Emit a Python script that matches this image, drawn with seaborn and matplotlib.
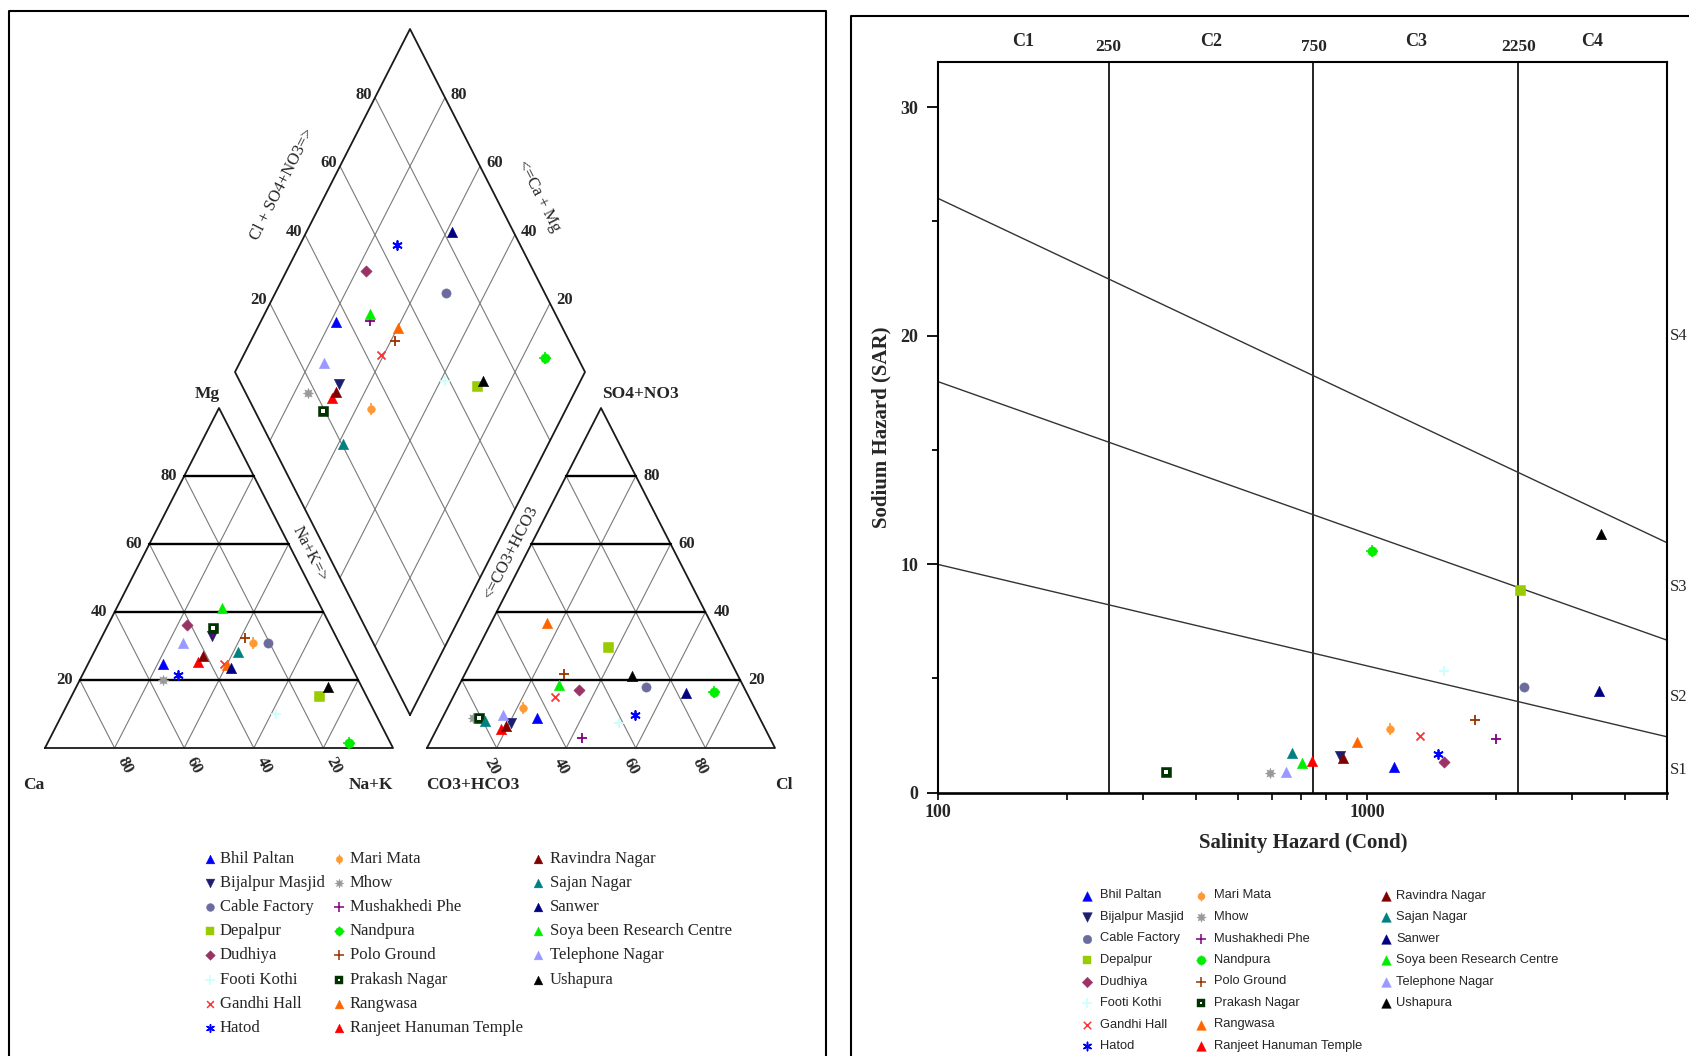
import numpy as np
import pandas as pd
import matplotlib
matplotlib.use("Agg")
import matplotlib.pyplot as plt
import matplotlib.transforms as mtransforms
from matplotlib.markers import MarkerStyle
from matplotlib.ticker import FixedLocator, NullFormatter
import seaborn as sns

sns.set_theme(style="white")
plt.rcParams["font.family"] = ["Liberation Serif", "DejaVu Serif"]

# ---------------------------------------------------------------- data
sites = ["Bhil Paltan", "Bijalpur Masjid", "Cable Factory", "Depalpur", "Dudhiya",
         "Footi Kothi", "Gandhi Hall", "Hatod", "Mari Mata", "Mhow",
         "Mushakhedi Phe", "Nandpura", "Polo Ground", "Prakash Nagar", "Rangwasa",
         "Ranjeet Hanuman Temple", "Ravindra Nagar", "Sajan Nagar", "Sanwer",
         "Soya been Research Centre", "Telephone Nagar", "Ushapura"]

site_markers = ["^", "v", "o", "s", "D", "+", "x", (6, 2, 0), "o", (8, 1, 0),
                "+", "o", "+", "s", "^", "^", "^", "^", "^", "^", "^", "^"]
site_colors = ["#0000ff", "#1e1e6e", "#6b6b9e", "#99cc00", "#993366",
               "#c8ffff", "#ff3333", "#0000ff", "#ff9933", "#999999",
               "#800080", "#00ee00", "#993300", "#003300", "#ff6600",
               "#ff0000", "#800000", "#008080", "#000080", "#00ee00",
               "#9999ff", "#000000"]
marker_scale = [1.0, 1.0, 0.8, 0.85, 0.6, 1.1, 0.6, 0.75, 0.55, 1.0,
                1.1, 0.8, 1.1, 0.85, 1.0, 1.0, 1.0, 1.0, 1.0, 1.0, 1.0, 1.0]

# cation composition (% meq): Mg and Na+K, Ca is the remainder
cat_mg = [24.7, 32.9, 30.8, 15.3, 36.2, 10.0, 24.7, 21.5, 31.0, 20.0, 34.0,
          1.5, 32.3, 35.2, 24.4, 25.4, 27.1, 28.3, 23.6, 41.1, 30.8, 18.0]
cat_nak = [21.6, 31.4, 48.6, 71.1, 22.8, 61.3, 39.2, 27.6, 44.2, 23.8, 31.2,
           86.6, 41.3, 30.8, 40.0, 31.4, 31.8, 41.4, 41.6, 30.2, 24.2, 72.2]
# anion composition (% meq): SO4+NO3 and Cl, CO3+HCO3 is the remainder
an_so4 = [8.9, 7.5, 17.8, 29.6, 17.1, 7.3, 15.0, 9.7, 11.9, 8.8, 2.9,
          16.5, 21.8, 8.8, 36.8, 5.5, 6.5, 7.8, 16.1, 18.6, 9.7, 21.2]
an_cl = [27.2, 20.5, 53.9, 37.3, 35.1, 51.5, 29.2, 55.0, 21.6, 8.9, 43.1,
         74.3, 28.4, 10.6, 16.1, 18.4, 19.5, 12.7, 66.4, 28.6, 17.0, 48.3]
# irrigation suitability: conductivity (uS/cm) and SAR
cond = [1156, 864, 2316, 2270, 1513, 1513, 1325, 1465, 1129, 593, 1992,
        1028, 1786, 340, 948, 744, 877, 670, 3473, 706, 647, 3508]
sar = [1.11, 1.61, 4.62, 8.88, 1.36, 5.34, 2.50, 1.68, 2.78, 0.88, 2.35,
       10.59, 3.18, 0.92, 2.21, 1.39, 1.53, 1.75, 4.47, 1.31, 0.91, 11.32]

grid_ticks = [20, 40, 60, 80]
ec_classes = [250, 750, 2250]
ec_class_labels = ["C1", "C2", "C3", "C4"]
# USSL sodium hazard boundaries: SAR = a - b*log10(EC)
ussl_a = [18.87, 31.31, 43.75]
ussl_b = [4.44, 6.66, 8.87]

df = pd.DataFrame({"site": sites, "mg": cat_mg, "nak": cat_nak,
                   "so4": an_so4, "cl": an_cl, "cond": cond, "sar": sar})

# ---------------------------------------------------------------- geometry (pixels)
W, H = 348.0, 340.0
CAT0 = np.array([45.0, 748.0])
AN0 = np.array([427.0, 748.0])
DB = np.array([410.0, 715.0])
DU = np.array([175.0, -343.0])
DV = np.array([-175.0, -343.0])


def tri_xy(origin, right_pct, top_pct):
    r = np.asarray(right_pct, dtype=float) / 100.0
    t = np.asarray(top_pct, dtype=float) / 100.0
    return origin[0] + W * (r + t / 2.0), origin[1] - H * t


def dia_xy(a_frac, b_frac):
    a = np.asarray(a_frac, dtype=float)
    b = np.asarray(b_frac, dtype=float)
    return DB[0] + a * DU[0] + b * DV[0], DB[1] + a * DU[1] + b * DV[1]


df["cat_x"], df["cat_y"] = tri_xy(CAT0, df["nak"], df["mg"])
df["an_x"], df["an_y"] = tri_xy(AN0, df["cl"], df["so4"])
df["dia_x"], df["dia_y"] = dia_xy((df["cl"] + df["so4"]) / 100.0,
                                  1.0 - df["nak"] / 100.0)

fig = plt.figure(figsize=(16.89, 10.56), dpi=100)
fig.patch.set_facecolor("white")
ax = fig.add_axes([0, 0, 1, 1])
ax.set_xlim(0, 1689)
ax.set_ylim(1056, 0)
ax.axis("off")

# panel frames
ax.plot([9.5, 9.5, 826, 826], [1100, 11, 11, 1100], color="black", lw=1.5)
ax.plot([851, 851, 1750], [1100, 16, 16], color="black", lw=1.5)

GRID = dict(color="#7a7a7a", lw=0.8, zorder=1)
EDGE = dict(color="#1a1a1a", lw=1.3, zorder=2)
BOLD = dict(color="black", lw=1.7, zorder=2)
TICKFONT = dict(fontsize=12, fontweight="bold")


def draw_triangle(origin):
    xs, ys = tri_xy(origin, [0, 100, 0, 0], [0, 0, 100, 0])
    ax.plot(xs, ys, **EDGE)
    for p in grid_ticks:
        x, y = tri_xy(origin, [0, 100 - p], [p, p])
        ax.plot(x, y, **BOLD)
        x, y = tri_xy(origin, [p, p], [0, 100 - p])
        ax.plot(x, y, **GRID)
        x, y = tri_xy(origin, [100 - p, 0], [0, 100 - p])
        ax.plot(x, y, **GRID)


draw_triangle(CAT0)
draw_triangle(AN0)

# diamond
corners = np.array([DB, DB + DU, DB + DU + DV, DB + DV, DB])
ax.plot(corners[:, 0], corners[:, 1], **EDGE)
for p in grid_ticks:
    f = p / 100.0
    s0, s1 = DB + f * DU, DB + f * DU + DV
    ax.plot([s0[0], s1[0]], [s0[1], s1[1]], **GRID)
    s0, s1 = DB + f * DV, DB + f * DV + DU
    ax.plot([s0[0], s1[0]], [s0[1], s1[1]], **GRID)

# tick labels of the triangles and the diamond
for p in grid_ticks:
    x, y = tri_xy(CAT0, 0, p)
    ax.text(x - 7, y, str(p), ha="right", va="center", **TICKFONT)
    x, y = tri_xy(AN0, 100 - p, p)
    ax.text(x + 8, y, str(p), ha="left", va="center", **TICKFONT)
    x, _ = tri_xy(CAT0, 100 - p, 0)
    ax.text(x + 10, 765, str(p), ha="center", va="center", rotation=-62, **TICKFONT)
    x, _ = tri_xy(AN0, p, 0)
    ax.text(x - 5, 766, str(p), ha="center", va="center", rotation=-62, **TICKFONT)
    pt = DB + DV + (p / 100.0) * DU
    ax.text(pt[0] - 3, pt[1] - 3, str(p), ha="right", va="center", **TICKFONT)
    pt = DB + DU + (p / 100.0) * DV
    ax.text(pt[0] + 6, pt[1] - 3, str(p), ha="left", va="center", **TICKFONT)

CORNER = dict(fontsize=12.5, fontweight="bold", ha="center", va="center")
ax.text(34, 785, "Ca", **CORNER)
ax.text(371, 785, "Na+K", **CORNER)
ax.text(473, 785, "CO3+HCO3", **CORNER)
ax.text(784, 785, "Cl", **CORNER)
ax.text(207, 394, "Mg", **CORNER)
ax.text(640, 394, "SO4+NO3", **CORNER)

AXT = dict(fontsize=12, ha="center", va="center")
ax.text(310, 554, "Na+K=>", rotation=-63, **AXT)
ax.text(511, 553, "<=CO3+HCO3", rotation=63, **AXT)
ax.text(282, 184, "Cl + SO4+NO3=>", rotation=63, **AXT)
ax.text(539, 196, "<=Ca + Mg", rotation=-63, **AXT)


# ---------------------------------------------------------------- markers
def draw_points(axis, xcol, ycol, base_s, zorder=5):
    for i, name in enumerate(sites):
        row = df.iloc[[i]]
        m, c = site_markers[i], site_colors[i]
        s = base_s * marker_scale[i]
        kw = dict(data=row, x=xcol, y=ycol, marker=m, s=s, color=c, ax=axis,
                  legend=False, zorder=zorder, clip_on=False)
        if MarkerStyle(m).is_filled():
            kw.update(edgecolor=c, linewidth=0.4)
        else:
            kw.update(linewidth=1.3)
        sns.scatterplot(**kw)
        if name == "Nandpura":
            sns.scatterplot(data=row, x=xcol, y=ycol, marker="+", s=s * 1.5,
                            color=c, linewidth=1.2, ax=axis, legend=False,
                            zorder=zorder, clip_on=False)
        elif name == "Mari Mata":
            sns.scatterplot(data=row, x=xcol, y=ycol, marker="|", s=s * 2.2,
                            color=c, linewidth=1.2, ax=axis, legend=False,
                            zorder=zorder, clip_on=False)
        elif name == "Prakash Nagar":
            sns.scatterplot(data=row, x=xcol, y=ycol, marker="s", s=s * 0.1,
                            color="white", edgecolor="white", linewidth=0,
                            ax=axis, legend=False, zorder=zorder + 1, clip_on=False)


draw_points(ax, "cat_x", "cat_y", 55)
draw_points(ax, "an_x", "an_y", 55)
draw_points(ax, "dia_x", "dia_y", 55)


def draw_legend(axis, xm, xt, y0, dy, base_s, font):
    for i, name in enumerate(sites):
        col, row = divmod(i, 8)
        x, y = xm[col], y0 + row * dy
        m, c = site_markers[i], site_colors[i]
        s = base_s * marker_scale[i]
        if MarkerStyle(m).is_filled():
            axis.scatter([x], [y], marker=m, s=s, color=c, edgecolor=c,
                         linewidth=0.3, zorder=5)
        else:
            axis.scatter([x], [y], marker=m, s=s, color=c, linewidth=1.1, zorder=5)
        if name == "Nandpura":
            axis.scatter([x], [y], marker="+", s=s * 1.5, color=c, linewidth=1.0, zorder=5)
        elif name == "Mari Mata":
            axis.scatter([x], [y], marker="|", s=s * 2.2, color=c, linewidth=1.0, zorder=5)
        elif name == "Prakash Nagar":
            axis.scatter([x], [y], marker="s", s=s * 0.1, color="white",
                         linewidth=0, zorder=6)
        axis.text(xt[col], y, name, ha="left", va="center", **font)


draw_legend(ax, [210, 339, 538], [220, 350, 550], 859, 24.1, 40,
            dict(fontsize=12, family=["Liberation Serif", "DejaVu Serif"]))
draw_legend(ax, [1087, 1201, 1386], [1100, 1214, 1396], 895.5, 21.5, 48,
            dict(fontsize=9.3, family=["Liberation Sans", "DejaVu Sans"]))

# ---------------------------------------------------------------- USSL diagram
wx = fig.add_axes([938 / 1689, 1 - 792.7 / 1056, (1667 - 938) / 1689,
                   (792.7 - 61.5) / 1056])
wx.set_facecolor("none")
wx.set_xscale("log")
wx.set_xlim(100, 5000)
wx.set_ylim(0, 32)
wx.grid(False)
for side, sp in wx.spines.items():
    sp.set_visible(True)
    sp.set_color("black")
    sp.set_linewidth(1.5)
wx.spines["bottom"].set_linewidth(1.9)

wx.set_xticks([100, 1000])
wx.set_xticklabels(["100", "1000"], fontsize=13, fontweight="bold")
wx.xaxis.set_minor_locator(FixedLocator([200, 300, 400, 500, 600, 700, 800, 900,
                                         2000, 3000, 4000, 5000]))
wx.xaxis.set_minor_formatter(NullFormatter())
wx.set_yticks([0, 10, 20, 30])
wx.set_yticklabels(["0", "10", "20", "30"], fontsize=13, fontweight="bold")
wx.yaxis.set_minor_locator(FixedLocator([5, 15, 25]))
wx.tick_params(axis="both", which="both", direction="out", color="black",
               top=False, right=False, bottom=True, left=True)
wx.tick_params(axis="y", which="major", length=8, width=1.3, pad=6)
wx.tick_params(axis="y", which="minor", length=4.5, width=1.3)
wx.tick_params(axis="x", which="both", length=5, width=1.2, pad=3)

for v in ec_classes:
    wx.axvline(v, color="black", lw=1.2, zorder=2)

ec = np.logspace(2, np.log10(5000), 100)
for a, b in zip(ussl_a, ussl_b):
    wx.plot(ec, a - b * np.log10(ec), color="#333333", lw=1.0, zorder=2)

top_tf = mtransforms.blended_transform_factory(wx.transData, wx.transAxes)
bounds = [100] + ec_classes + [5000]
for k, lab in enumerate(ec_class_labels):
    mid = np.sqrt(bounds[k] * bounds[k + 1])
    wx.text(mid, 1.027, lab, transform=top_tf, ha="center", va="center",
            fontsize=13, fontweight="bold", clip_on=False)
for v in ec_classes:
    wx.text(v, 1.020, str(v), transform=top_tf, ha="center", va="center",
            fontsize=12.5, fontweight="bold", clip_on=False)

# sodium-hazard class labels sit just outside the right spine
side_tf = mtransforms.blended_transform_factory(wx.transAxes, wx.transData)
for lab, yv in zip(["S1", "S2", "S3", "S4"], [1.0, 4.2, 9.0, 20.0]):
    wx.text(1.004, yv, lab, transform=side_tf, ha="left", va="center",
            fontsize=12, clip_on=False)

draw_points(wx, "cond", "sar", 55)
wx.set_xlabel("")
wx.set_ylabel("")

ax.text(1303, 843, "Salinity Hazard (Cond)", ha="center", va="center",
        fontsize=15, fontweight="bold")
ax.text(881, 427, "Sodium Hazard (SAR)", ha="center", va="center",
        rotation=90, fontsize=15, fontweight="bold")

fig.savefig("out.png", dpi=100)
